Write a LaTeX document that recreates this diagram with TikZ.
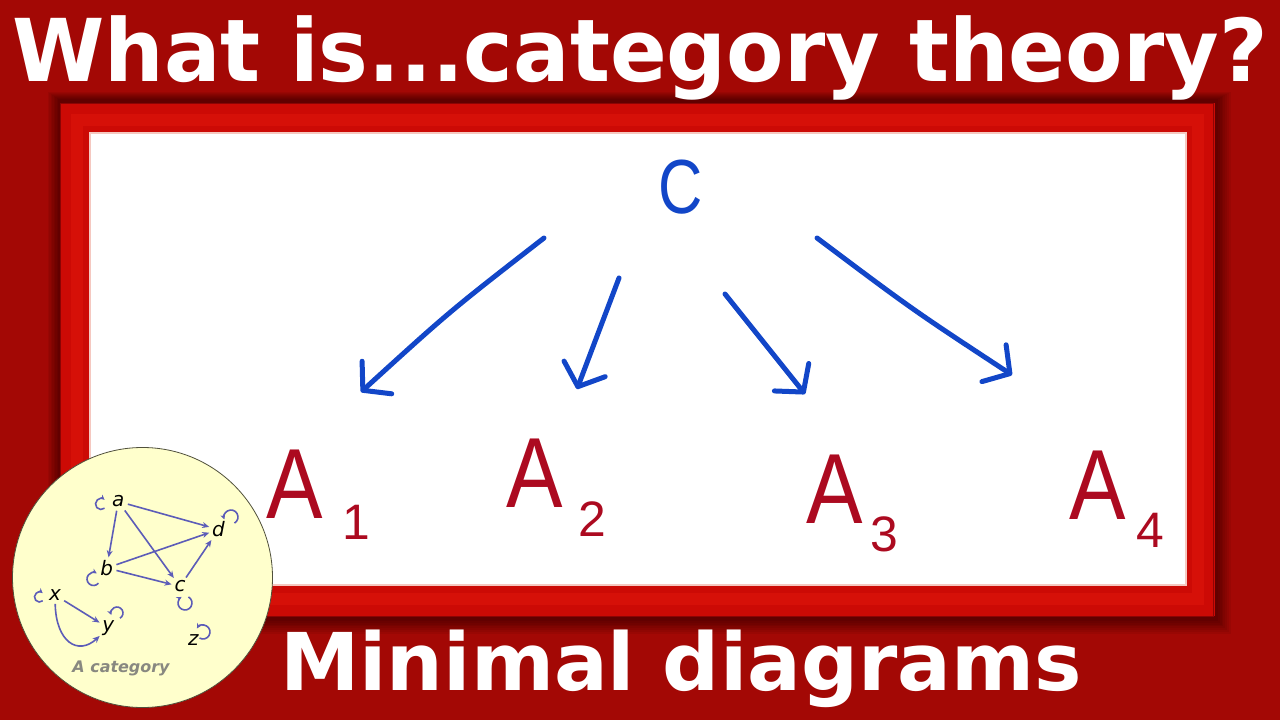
\documentclass[tikz,border=0pt]{standalone}
\usepackage{fontspec}
\setmainfont{DejaVu Sans}
\newfontfamily\handfont{Liberation Sans}
\usetikzlibrary{arrows.meta}
\definecolor{bgred}{RGB}{163,8,5}
\definecolor{framered}{RGB}{204,10,5}
\definecolor{framelight}{RGB}{214,16,8}
\definecolor{framedark}{RGB}{140,4,4}
\definecolor{pinkedge}{RGB}{245,200,192}
\definecolor{pen}{RGB}{18,70,200}
\definecolor{ink}{RGB}{172,10,32}
\definecolor{minicol}{RGB}{92,92,184}
\definecolor{paleyellow}{RGB}{255,255,204}
\definecolor{labelgrey}{RGB}{136,136,128}
\definecolor{diskedge}{RGB}{80,80,60}
\begin{document}
\begin{tikzpicture}[x=1bp,y=-1bp,
  bigtitle/.style={text=white,inner sep=0pt,font=\fontsize{87}{90}\selectfont\bfseries},
  subtitle/.style={text=white,inner sep=0pt,font=\fontsize{80}{84}\selectfont\bfseries},
  handC/.style={text=pen,inner sep=0pt,font=\handfont\fontsize{77}{77}\selectfont},
  handA/.style={text=ink,inner sep=0pt,font=\handfont\fontsize{100}{100}\selectfont},
  handsub/.style={text=ink,inner sep=0pt,font=\handfont\fontsize{50}{50}\selectfont},
  penarrow/.style={draw=pen,line width=5bp,line cap=round,line join=round,
    -{Straight Barb[length=19bp,width=44bp,line width=5bp,round]}},
  obj/.style={inner sep=1.8bp,font=\fontsize{20}{20}\selectfont\itshape,text=black},
  mor/.style={draw=minicol,line width=1.6bp,-{Stealth[length=7bp,width=6bp]},shorten <=1.5bp,shorten >=1bp},
  idloop/.style={draw=minicol,line width=1.6bp,-{Stealth[length=5bp,width=5bp]}}]
\useasboundingbox (0,0) rectangle (1280,720);
% background
\fill[bgred] (0,0) rectangle (1280,720);
% frame shadow
\foreach \i in {0,...,7}
  \fill[black,opacity=0.06] ({58-\i*1.5},{99-\i*1}) rectangle ({1218+\i*1.8},{621+\i*1.8});
% frame
\draw[framered,line width=30bp,line join=miter] (75,118) rectangle (1200,601);
\draw[framelight,line width=12bp,line join=miter] (77,120) rectangle (1198,599);
\draw[framedark,line width=1.5bp] (60.5,103.5) rectangle (1213.5,616.5);
\fill[white] (90,133) rectangle (1186,585);
\draw[pinkedge,line width=1.2bp] (90,133) rectangle (1186,585);
% hand-drawn diagram
\node[handC] (C) at (681,187) {\scalebox{0.8}[1]{C}};
\node[handA] (A1) at (295,484) {\scalebox{0.85}[1]{A}};
\node[handsub] (A1s) at (356,522) {1};
\node[handA] (A2) at (535,473) {\scalebox{0.85}[1]{A}};
\node[handsub] (A2s) at (592,519) {2};
\node[handA] (A3) at (835,489) {\scalebox{0.85}[1]{A}};
\node[handsub] (A3s) at (884,534) {3};
\node[handA] (A4) at (1098,485) {\scalebox{0.85}[1]{A}};
\node[handsub] (A4s) at (1150,530) {4};
\coordinate (s1) at (544,238); \coordinate (e1) at (361,392);
\coordinate (s2) at (619,278); \coordinate (e2) at (577,389);
\coordinate (s3) at (725,294); \coordinate (e3) at (805,394);
\coordinate (s4) at (817,238); \coordinate (e4) at (1012,375);
\draw[penarrow] (s1) .. controls (450,311) .. (e1);
\draw[penarrow] (s2) -- (e2);
\draw[penarrow] (s3) -- (e3);
\draw[penarrow] (s4) .. controls (913,310) .. (e4);
% titles
\node[bigtitle,anchor=base] (title) at (640,82) {\resizebox{1255bp}{\height}{What is...category theory?}};
\node[subtitle,anchor=base] (sub) at (681,690) {Minimal diagrams};
% disk with a small category
\node[circle,fill=paleyellow,draw=diskedge,line width=0.8bp,inner sep=0pt,minimum size=260bp] (disk) at (142.5,577.5) {};
\node[obj] (a) at (118.3,501.5) {a};
\node[obj] (b) at (106.7,568) {b};
\node[obj] (c) at (180,586.5) {c};
\node[obj] (d) at (218.5,529.5) {d};
\node[obj] (x) at (55,595) {x};
\node[obj] (y) at (108.3,628) {y};
\node[obj] (z) at (193.3,640) {z};
\node[text=labelgrey,inner sep=0pt,font=\fontsize{16}{16}\selectfont\bfseries\itshape] (cat) at (121,668) {A category};
\draw[mor] (a) -- (d);
\draw[mor] (a) -- (b);
\draw[mor] (a) -- (c);
\draw[mor] (b) -- (d);
\draw[mor] (b) -- (c);
\draw[mor] (c) -- (d);
\draw[mor] (x) -- (y);
\draw[mor] (x) .. controls (56,642) and (78,656) .. (y);
% identity loops
\draw[idloop] (101,504) ++(50:5.5) arc[start angle=50,end angle=310,radius=5.5];
\draw[idloop] (93.5,579) ++(40:6.5) arc[start angle=40,end angle=300,radius=6.5];
\draw[idloop] (185,603) ++(-60:7) arc[start angle=-60,end angle=240,radius=7];
\draw[idloop] (231,517) ++(60:7) arc[start angle=60,end angle=-200,radius=7];
\draw[idloop] (39.5,597) ++(50:5) arc[start angle=50,end angle=310,radius=5];
\draw[idloop] (117,613) ++(60:6) arc[start angle=60,end angle=-200,radius=6];
\draw[idloop] (203,632) ++(120:7) arc[start angle=120,end angle=-150,radius=7];
\end{tikzpicture}
\end{document}
